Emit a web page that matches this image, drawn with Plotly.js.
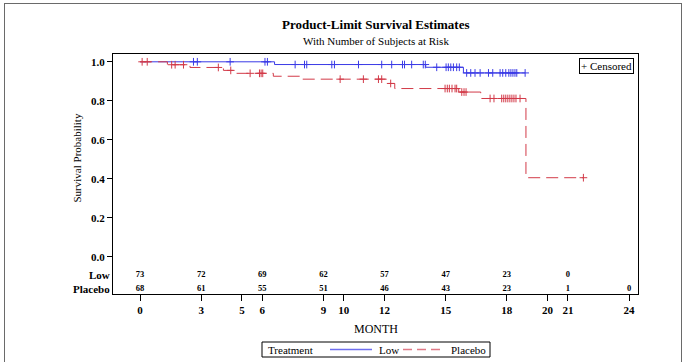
<!DOCTYPE html>
<html><head><meta charset="utf-8">
<script src="https://cdn.plot.ly/plotly-3.0.1.min.js"></script>
<style>
body{margin:0;background:#fff;}
#frame{position:absolute;left:4px;top:3px;width:676px;height:400px;border:1px solid #6a6a6a;border-bottom:none;pointer-events:none;}
</style>
</head><body>
<div id="chart" style="position:absolute;left:0;top:0;width:686px;height:362px;"></div>
<div id="frame"></div>
<script>
// ---- data ----
const lowTimes = [0, 6.6, 14.02, 15.87, 18.9];
const lowSurv  = [1.0, 0.986, 0.972, 0.943, 0.943];
const lowCensor = [2.62, 2.81, 4.42, 6.13, 6.25, 7.61, 8.07, 8.18, 9.41, 9.54, 10.72,
  11.86, 12.35, 12.88, 12.98, 13.33, 13.9, 14.0, 14.56, 15.02, 15.13, 15.25, 15.38, 15.54, 15.67,
  16.03, 16.23, 16.44, 16.69, 17.1, 17.31, 17.67, 17.8, 17.95, 18.1, 18.2, 18.3, 18.4, 18.49, 18.9];

const placeboTimes = [0, 1.34, 2.45, 4.09, 4.71, 6.54, 7.93, 12.1, 12.5, 15.64, 16.72, 18.94, 21.76];
const placeboSurv  = [1.0, 0.985, 0.971, 0.956, 0.941, 0.926, 0.911, 0.889, 0.863, 0.845, 0.812, 0.406, 0.406];
const placeboCensor = [0.1, 0.35, 1.55, 1.72, 2.13, 3.84, 4.45, 5.4, 5.86, 5.94, 6.02, 9.82, 10.96,
  11.7, 11.86, 12.3, 14.97, 15.08, 15.18, 15.31, 15.46, 15.54, 15.79, 15.9, 16.0,
  17.18, 17.37, 17.75, 17.85, 17.95, 18.05, 18.15, 18.25, 18.35, 18.45, 18.65, 21.76];

const riskTimes = [0, 3, 6, 9, 12, 15, 18, 21, 24];
const riskLow = ["73", "72", "69", "62", "57", "47", "23", "0", ""];
const riskPlacebo = ["68", "61", "55", "51", "46", "43", "23", "1", "0"];

const xTicks = [0, 3, 5, 6, 9, 10, 12, 15, 18, 20, 21, 24];
const yTicks = [0, 0.2, 0.4, 0.6, 0.8, 1.0];
const yTickText = ["0.0", "0.2", "0.4", "0.6", "0.8", "1.0"];

// ---- style ----
const BLUE = '#3a3ae6';
const RED = '#d23a48';
const FONT = 'Liberation Serif, Times New Roman, serif';
const ROW_LOW = -0.092, ROW_PLA = -0.164;

function levelAt(times, surv, t) {
  let s = surv[0];
  for (let i = 0; i < times.length; i++) if (times[i] <= t) s = surv[i];
  return s;
}

const traces = [
  {x: lowTimes, y: lowSurv, mode: 'lines', line: {shape: 'hv', color: BLUE, width: 1}, showlegend: false, hoverinfo: 'skip'},
  {x: placeboTimes, y: placeboSurv, mode: 'lines', line: {shape: 'hv', color: RED, width: 1, dash: '12px,6px'}, showlegend: false, hoverinfo: 'skip'},
  {x: lowCensor, y: lowCensor.map(t => levelAt(lowTimes, lowSurv, t)), mode: 'markers',
   marker: {symbol: 'cross-thin', size: 5.5, line: {color: BLUE, width: 1}}, showlegend: false, hoverinfo: 'skip'},
  {x: placeboCensor, y: placeboCensor.map(t => levelAt(placeboTimes, placeboSurv, t)), mode: 'markers',
   marker: {symbol: 'cross-thin', size: 5.5, line: {color: RED, width: 1}}, showlegend: false, hoverinfo: 'skip'},
  {x: riskTimes, y: riskTimes.map(() => ROW_LOW), text: riskLow, mode: 'text', cliponaxis: false,
   textfont: {family: FONT, size: 8.5, color: '#000', weight: 'bold'}, showlegend: false, hoverinfo: 'skip'},
  {x: riskTimes, y: riskTimes.map(() => ROW_PLA), text: riskPlacebo, mode: 'text', cliponaxis: false,
   textfont: {family: FONT, size: 8.5, color: '#000', weight: 'bold'}, showlegend: false, hoverinfo: 'skip'}
];

const px = p => (p - 113) / 525;
const py = p => (294 - p) / 240;

const layout = {
  width: 686, height: 362,
  margin: {l: 113, r: 48, t: 54, b: 68},
  paper_bgcolor: 'rgba(0,0,0,0)', plot_bgcolor: '#fff',
  font: {family: FONT, color: '#000'},
  showlegend: false,
  xaxis: {range: [-1.33, 24.44], tickvals: xTicks, ticktext: xTicks.map(String), ticks: 'outside', ticklen: 6,
    tickwidth: 1, tickcolor: '#000', showline: true, linecolor: '#000', linewidth: 1, mirror: true,
    showgrid: false, zeroline: false, tickfont: {family: FONT, size: 11, weight: 'bold'}},
  yaxis: {range: [-0.19, 1.04], tickvals: yTicks, ticktext: yTickText, ticks: 'outside', ticklen: 5,
    tickwidth: 1, tickcolor: '#000', showline: true, linecolor: '#000', linewidth: 1, mirror: true,
    showgrid: false, zeroline: false, tickfont: {family: FONT, size: 11, weight: 'bold'}},
  annotations: [
    {text: '<b>Product-Limit Survival Estimates</b>', xref: 'paper', yref: 'paper', x: 0.5, y: py(24), showarrow: false,
     font: {family: FONT, size: 13}, xanchor: 'center', yanchor: 'middle'},
    {text: 'With Number of Subjects at Risk', xref: 'paper', yref: 'paper', x: 0.5, y: py(41), showarrow: false,
     font: {family: FONT, size: 11}, xanchor: 'center', yanchor: 'middle'},
    {text: 'Survival Probability', xref: 'paper', yref: 'paper', x: px(76), y: py(158.5), textangle: -90, showarrow: false,
     font: {family: FONT, size: 11}, xanchor: 'center', yanchor: 'middle'},
    {text: 'MONTH', xref: 'paper', yref: 'paper', x: 0.5, y: py(329), showarrow: false,
     font: {family: FONT, size: 12}, xanchor: 'center', yanchor: 'middle'},
    {text: '<b>Low</b>', xref: 'paper', yref: 'y', x: 0, xshift: -1, y: ROW_LOW, showarrow: false,
     font: {family: FONT, size: 11}, xanchor: 'right', yanchor: 'middle'},
    {text: '<b>Placebo</b>', xref: 'paper', yref: 'y', x: 0, xshift: -1, y: ROW_PLA, showarrow: false,
     font: {family: FONT, size: 11}, xanchor: 'right', yanchor: 'middle'},
    {text: '+ Censored', xref: 'paper', yref: 'paper', x: 1, xshift: -4, y: 1, yshift: -4, showarrow: false,
     font: {family: FONT, size: 11}, xanchor: 'right', yanchor: 'top', bordercolor: '#000', borderwidth: 1, borderpad: 1, bgcolor: '#fff'},
    {text: 'Treatment', xref: 'paper', yref: 'paper', x: px(266), y: py(349.5), showarrow: false,
     font: {family: FONT, size: 11}, xanchor: 'left', yanchor: 'middle'},
    {text: 'Low', xref: 'paper', yref: 'paper', x: px(377), y: py(349.5), showarrow: false,
     font: {family: FONT, size: 11}, xanchor: 'left', yanchor: 'middle'},
    {text: 'Placebo', xref: 'paper', yref: 'paper', x: px(449), y: py(349.5), showarrow: false,
     font: {family: FONT, size: 11}, xanchor: 'left', yanchor: 'middle'}
  ],
  shapes: [
    {type: 'rect', xref: 'paper', yref: 'paper', x0: px(262), x1: px(490), y0: py(342), y1: py(357), line: {color: '#000', width: 1}},
    {type: 'line', xref: 'paper', yref: 'paper', x0: px(330), x1: px(372), y0: py(349.5), y1: py(349.5), line: {color: '#6f6ff0', width: 1.5}},
    {type: 'line', xref: 'paper', yref: 'paper', x0: px(403), x1: px(445), y0: py(349.5), y1: py(349.5), line: {color: '#e07a86', width: 1.5, dash: '9px,5px'}}
  ]
};

Plotly.newPlot('chart', traces, layout, {staticPlot: true, displayModeBar: false});
</script>
</body></html>
